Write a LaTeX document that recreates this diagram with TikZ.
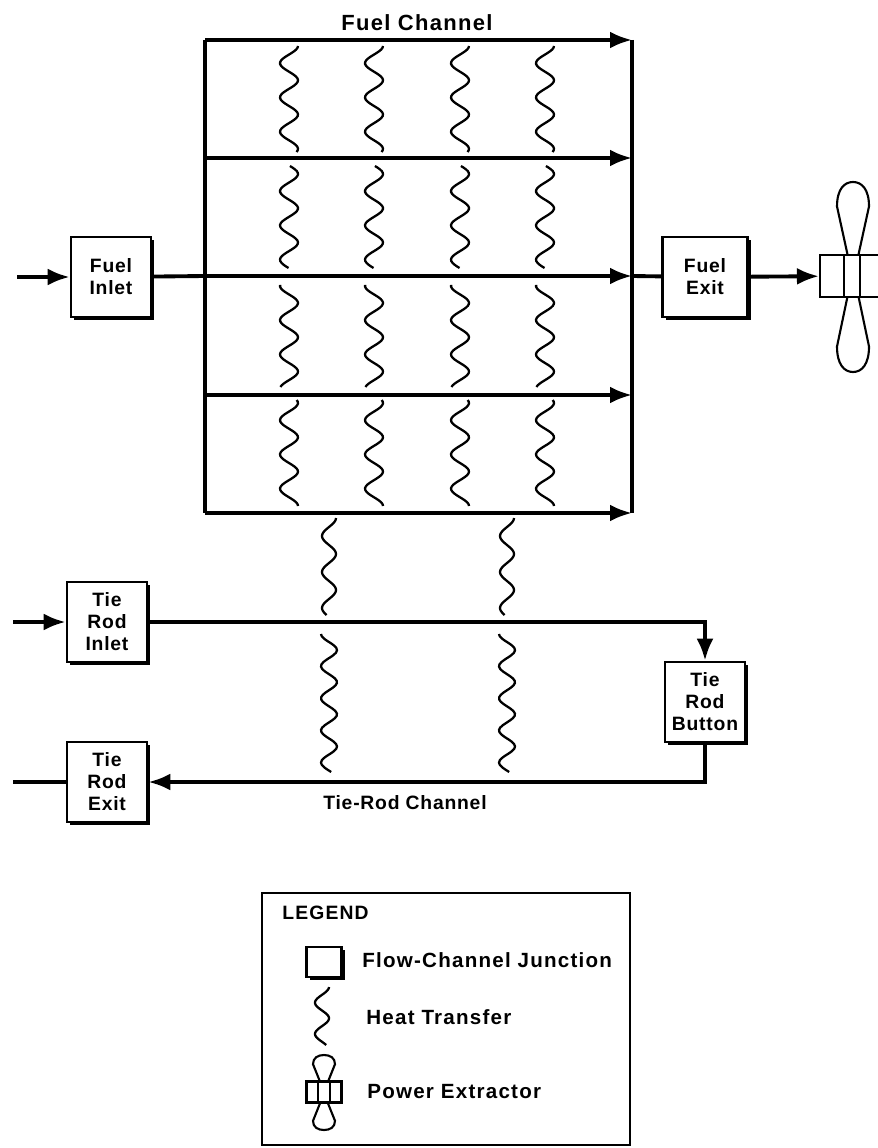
\documentclass[tikz,border=0pt]{standalone}
\usepackage{fontspec}
\setmainfont{Liberation Sans}
\newfontfamily\widefont[LetterSpace=6]{Liberation Sans}
\newfontfamily\boxfont[LetterSpace=4]{Liberation Sans}
\usetikzlibrary{arrows.meta,shadows}
\tikzset{
	junction/.style={draw, fill=white, line width=1.5pt, minimum width=16mm, minimum height=16mm, align=center, inner sep=0pt, font=\boxfont\bfseries\fontsize{11}{12.5}\selectfont, general shadow={fill=black, shadow xshift=0.6mm, shadow yshift=-0.6mm}},
	channel/.style={line width=2.2pt},
	flow/.style={channel, -{Latex[length=4.4mm,width=3.4mm]}},
	heatwave/.style={line width=1.3pt, smooth, samples=60, variable=\t},
	label/.style={font=\widefont\bfseries\fontsize{12.5}{14}\selectfont},
	legendtext/.style={anchor=west, inner sep=0pt, font=\widefont\bfseries\fontsize{11.7}{14}\selectfont},
	pics/blade/.style={code={\draw[line width=1.2pt] (-.35,0) -- (-1,.66) .. controls (-1,.9) and (-.55,1) .. (0,1) .. controls (.55,1) and (1,.9) .. (1,.66) -- (.35,0);}}
}
\begin{document}
\begin{tikzpicture}[x=0.2mm, y=-0.2mm]
	\useasboundingbox (0, 0) rectangle (877, 1148);
	% The channel ends
	\foreach \n/\y in {1/40, 2/158, 3/276, 4/395, 5/513} {
		\coordinate (left\n) at (205, \y);
		\coordinate (right\n) at (632, \y);
		\draw[flow] (left\n) -- (right\n);
	}
	\draw[channel] (left1) -- (left5);
	\draw[channel] (right1) -- (right5);
	\node[label] (fuellabel) at (417, 23) {Fuel Channel};
	% The boxes
	\node[junction] (fuelinlet) at (111, 277) {Fuel\\Inlet};
	\node[junction, minimum width=17mm] (fuelexit) at (705, 277) {Fuel\\Exit};
	\node[junction] (tieinlet) at (107, 622) {Tie\\Rod\\Inlet};
	\node[junction] (tiebutton) at (705, 702) {Tie\\Rod\\Button};
	\node[junction] (tieexit) at (107, 782) {Tie\\Rod\\Exit};
	% The power extractor
	\pic[xscale=16, yscale=-72] at (853, 254) {blade};
	\pic[xscale=16, yscale=75] at (853, 297) {blade};
	\node[draw, line width=1.2pt, minimum width=13.2mm, minimum height=8.4mm, inner sep=0pt] (fan) at (853, 276) {};
	\draw[line width=1.2pt] (844, 255) -- (844, 297);
	\draw[line width=1.2pt] (860, 255) -- (860, 297);
	% The fuel connectors
	\coordinate (fuelin) at (17, 277);
	\draw[flow] (fuelin) -- (fuelinlet);
	\draw[channel] (fuelinlet) -- (left3);
	\draw[channel] (right3) -- (fuelexit);
	\draw[flow] (fuelexit) -- (fan);
	% The tie-rod connectors
	\coordinate (tiein) at (13, 622);
	\coordinate (tieout) at (13, 782);
	\draw[flow] (tiein) -- (tieinlet);
	\draw[flow] (tieinlet) -| (tiebutton);
	\draw[flow] (tiebutton) |- (tieexit);
	\draw[channel] (tieexit) -- (tieout);
	\node[label, font=\boxfont\bfseries\fontsize{11}{14}\selectfont] (tielabel) at (405, 803) {Tie-Rod Channel};
	% Heat transfer between the fuel channels
	\foreach \x in {289, 374, 460, 545}
		\foreach \a/\b/\p in {46/152/46, 166/268/174, 285/387/303, 400/506/403}
			\draw[heatwave, domain=\a:\b] plot ({\x+9*cos(10.5*(\t-\p))}, \t);
	% Heat transfer to the tie rod
	\foreach \x in {329, 507} {
		\draw[heatwave, domain=518:615] plot ({\x+7*cos(10*(\t-518))}, \t);
		\draw[heatwave, domain=634:772] plot ({\x-8*cos(11.2*(\t-634))}, \t);
	}
	% Legend
	\node[draw, line width=1.5pt, minimum width=73.6mm, minimum height=50.4mm] (legendbox) at (446, 1019) {};
	\node[legendtext, font=\widefont\bfseries\fontsize{11}{14}\selectfont] (legendtitle) at (282, 913) {LEGEND};
	\node[junction, minimum width=7mm, minimum height=6mm] (legendjunction) at (324, 962) {};
	\node[legendtext] (junctiontext) at (362, 960) {Flow-Channel Junction};
	\draw[heatwave, domain=987:1045] plot ({322+7*cos(11.5*(\t-987))}, \t);
	\node[legendtext] (heattext) at (366, 1017) {Heat Transfer};
	\pic[xscale=11, yscale=-27] at (324, 1082) {blade};
	\pic[xscale=11, yscale=27] at (324, 1103) {blade};
	\node[draw, line width=1.5pt, minimum width=7mm, minimum height=4.2mm, inner sep=0pt] (legendfan) at (324, 1092) {};
	\draw[line width=1.2pt] (318, 1082) -- (318, 1103);
	\draw[line width=1.2pt] (330, 1082) -- (330, 1103);
	\node[legendtext] (fantext) at (367, 1092) {Power Extractor};
\end{tikzpicture}
\end{document}
